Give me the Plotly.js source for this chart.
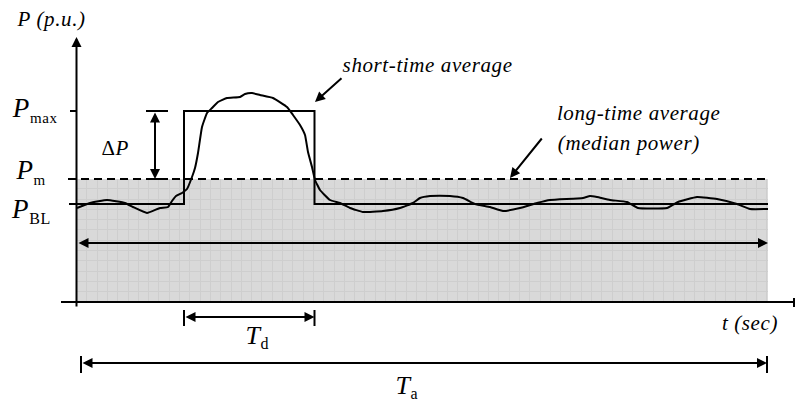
<!DOCTYPE html>
<html>
<head>
<meta charset="utf-8">
<script src="https://cdn.plot.ly/plotly-3.0.1.min.js"></script>
<style>
html,body{margin:0;padding:0;background:#fff;}
#chart{width:795px;height:403px;}
#chart .annotation-text{letter-spacing:0.6px;}
</style>
</head>
<body>
<div id="chart"></div>
<script>
// Drawing coordinates (1 unit = 1 px, vertical axis pointing down)
const T_AXIS = 76.5;     // P axis position
const T_ON = 184;        // start of short-time pulse
const T_OFF = 314.5;     // end of short-time pulse
const T_END = 768;       // end of record
const Y_AXIS = 302;      // t axis level
const Y_BL = 204;        // P_BL level
const Y_M = 179;         // P_m level
const Y_MAX = 111;       // P_max level
const GRID = 10.3;

// measured power curve
const tCurve = [77, 90, 107, 125, 133, 147, 160, 168, 172, 176, 182, 187, 192, 195, 198, 202, 207, 212, 218, 227, 240, 245, 252, 260, 273, 287, 293, 300, 305, 308, 312, 315, 320, 330, 340, 350, 363, 383, 400, 413, 420, 430, 450, 463, 475, 490, 503, 520, 537, 550, 583, 590, 597, 610, 627, 638, 667, 678, 697, 717, 737, 750, 768];
const pCurve = [208, 203, 200, 203, 207, 213, 208, 207, 201, 196, 193, 189, 177, 168, 153, 127, 113, 108, 102, 98, 97, 94, 93, 95, 98, 107, 115, 125, 135, 152, 167, 180, 190, 200, 203, 208, 212, 211, 208, 203, 198, 196, 196, 198, 204, 207, 211, 208, 203, 200, 198, 196, 197, 200, 202, 208, 208, 202, 197, 199, 204, 209, 209];

// short-time average (step)
const tStep = [69, T_ON, T_ON, T_OFF, T_OFF, T_END];
const pStep = [Y_BL, Y_BL, Y_MAX, Y_MAX, Y_BL, Y_BL];

const FONT = 'Liberation Serif';
const K = 'black';

function seg(x, y, w, dash) {
  return {x: x, y: y, xaxis: 'x2', yaxis: 'y2', mode: 'lines', hoverinfo: 'skip',
          line: {color: K, width: w || 2, dash: dash || 'solid'}};
}

const traces = [
  {x: [0], y: [0], xaxis: 'x', yaxis: 'y', mode: 'markers', marker: {opacity: 0}, hoverinfo: 'skip'},
  {x: [T_AXIS, T_END, T_END, T_AXIS, T_AXIS], y: [Y_AXIS, Y_AXIS, Y_M, Y_M, Y_AXIS], xaxis: 'x2', yaxis: 'y2',
   mode: 'lines', fill: 'toself', fillcolor: 'rgba(0,0,0,0.15)', line: {width: 0}, hoverinfo: 'skip'},
  seg([68, T_END], [Y_M, Y_M], 2, '8px,5px'),
  seg(tStep, pStep, 2),
  Object.assign(seg(tCurve, pCurve, 2), {line: {color: K, width: 2, shape: 'spline', smoothing: 0.35}}),
  seg([61, 795], [Y_AXIS, Y_AXIS], 2),
  seg([794, 794], [298, 307], 2),
  seg([70, T_AXIS], [Y_MAX, Y_MAX], 2),
  seg([146, 168], [Y_MAX, Y_MAX], 2),
  seg([146, 168], [Y_M, Y_M], 2),
  seg([T_ON, T_ON], [310, 326], 2),
  seg([T_OFF, T_OFF], [310, 326], 2),
  seg([81, 81], [356, 373], 2),
  seg([767, 767], [356, 373], 2)
];

function arrow(x, y, ax, ay, both) {
  const a = {x: x, y: y, ax: ax, ay: ay, xref: 'x2', yref: 'y2', axref: 'x2', ayref: 'y2',
             text: '', showarrow: true, arrowhead: 2, arrowsize: 1, arrowwidth: 2, arrowcolor: K};
  if (both) { a.arrowside = 'end+start'; a.startarrowhead = 2; a.startarrowsize = 1; }
  return a;
}
function label(x, y, text, size, xanchor) {
  return {x: x, y: y, xref: 'x2', yref: 'y2', text: text, showarrow: false,
          xanchor: xanchor || 'center', yanchor: 'middle', font: {family: FONT, size: size, color: K}};
}
function sub(t, s) { return '<sub><span style="font-size:' + s + 'px">' + t + '</span></sub>'; }

const annotations = [
  arrow(T_AXIS, 37, T_AXIS, 308),
  arrow(155, Y_M, 155, Y_MAX, true),
  arrow(768, 243, 77, 243, true),
  arrow(T_OFF, 317, T_ON, 317, true),
  arrow(767, 363, 81, 363, true),
  arrow(315, 102, 343, 77),
  arrow(510, 178, 543, 137),
  label(51, 19, '<i>P (p.u.)</i>', 21),
  label(11, 109, '<i>P</i>' + sub('max', 15), 27, 'left'),
  label(14, 171, '<i>P</i>' + sub('m', 15), 27, 'left'),
  label(10, 210, '<i>P</i>' + sub('BL', 16), 27, 'left'),
  label(115, 148, 'Δ<i>P</i>', 21),
  label(427, 65, '<i>short-time average</i>', 21),
  label(560, 113, '<i>long-time average</i>', 21, 'left'),
  label(560, 143, '<i>(median power)</i>', 21, 'left'),
  label(750, 323, '<i>t (sec)</i>', 21),
  label(257, 336, '<i>T</i>' + sub('d', 16), 26),
  label(407, 386, '<i>T</i>' + sub('a', 16), 26)
];

const layout = {
  width: 795, height: 403, margin: {l: 0, r: 0, t: 0, b: 0, pad: 0},
  paper_bgcolor: 'white', plot_bgcolor: 'rgba(0,0,0,0)', showlegend: false,
  font: {family: FONT, color: K},
  xaxis: {domain: [T_AXIS / 795, T_END / 795], range: [0, T_END - T_AXIS], dtick: GRID, tick0: 0,
          showgrid: true, gridcolor: '#f2f2f2', gridwidth: 1, zeroline: false, showticklabels: false,
          ticks: '', showline: false, fixedrange: true},
  yaxis: {domain: [(403 - Y_AXIS) / 403, (403 - Y_M) / 403], range: [0, Y_AXIS - Y_M], dtick: GRID, tick0: 0,
          showgrid: true, gridcolor: '#f2f2f2', gridwidth: 1, zeroline: false, showticklabels: false,
          ticks: '', showline: false, fixedrange: true},
  xaxis2: {domain: [0, 1], range: [0, 795], visible: false, anchor: 'y2', fixedrange: true},
  yaxis2: {domain: [0, 1], range: [403, 0], visible: false, anchor: 'x2', fixedrange: true},
  annotations: annotations
};

Plotly.newPlot('chart', traces, layout, {staticPlot: true, displayModeBar: false});
</script>
</body>
</html>
